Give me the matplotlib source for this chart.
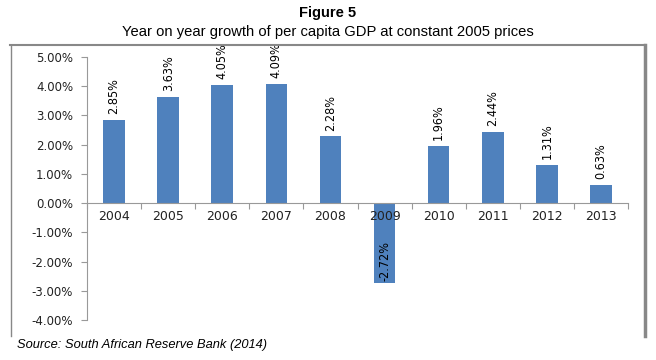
import matplotlib.pyplot as plt
from matplotlib.lines import Line2D
import numpy as np

# datos del gráfico
years = ['2004', '2005', '2006', '2007', '2008', '2009', '2010', '2011', '2012', '2013']
growth = [2.85, 3.63, 4.05, 4.09, 2.28, -2.72, 1.96, 2.44, 1.31, 0.63]
yticks = [5, 4, 3, 2, 1, 0, -1, -2, -3, -4]

fig = plt.figure(figsize=(6.56, 3.6), dpi=100)
ax = fig.add_axes([87 / 656, 1 - 320 / 360, (628 - 87) / 656, (320 - 57) / 360])

x = np.arange(len(years))
bars = ax.bar(x, growth, width=0.4, color='#4F81BD', zorder=2)

ax.set_xlim(-0.5, len(years) - 0.5)
ax.set_ylim(-4, 5)
ax.set_yticks(yticks)
ax.set_yticklabels(['%.2f%%' % v for v in yticks], fontsize=8.5, color='#222222')

# eje x en el cero, etiquetas debajo
ax.spines['bottom'].set_position(('data', 0))
ax.spines['bottom'].set_color('#999999')
ax.spines['left'].set_color('#999999')
ax.spines['top'].set_visible(False)
ax.spines['right'].set_visible(False)
ax.set_xticks(np.arange(len(years) + 1) - 0.5, minor=False)
ax.set_xticklabels([])
ax.tick_params(axis='x', length=4, color='#999999', direction='out')
ax.tick_params(axis='y', length=4, color='#999999', direction='out', pad=6)
for i, yr in enumerate(years):
    ax.text(i, -0.25, yr, ha='center', va='top', fontsize=9, color='#222222')

# etiquetas de valores
for i, v in enumerate(growth):
    if v >= 0:
        ax.text(i, v + 0.2, '%.2f%%' % v, rotation=90, ha='center', va='bottom',
                fontsize=9, fontstretch='condensed', family='DejaVu Sans')
    else:
        ax.text(i, v + 0.05, '%.2f%%' % v, rotation=90, ha='center', va='bottom',
                fontsize=9, fontstretch='condensed', family='DejaVu Sans')

# títulos
fig.text(0.5, 1 - 13 / 360, 'Figure 5', ha='center', va='center', fontsize=10.5,
         fontweight='bold', family='Liberation Sans')
fig.text(0.5, 1 - 32 / 360, 'Year on year growth of per capita GDP at constant 2005 prices',
         ha='center', va='center', fontsize=10.6, family='Liberation Sans')
fig.text(17 / 656, 1 - 345 / 360, 'Source: South African Reserve Bank (2014)',
         ha='left', va='center', fontsize=9.3, style='italic', family='Liberation Sans')

# marco gris
fig.add_artist(Line2D([10 / 656, 645 / 656], [1 - 45 / 360] * 2, color='#888888', lw=1.5))
fig.add_artist(Line2D([11 / 656] * 2, [1 - 45 / 360, 1 - 336 / 360], color='#888888', lw=1))
fig.add_artist(Line2D([645 / 656] * 2, [1 - 45 / 360, 1 - 336 / 360], color='#888888', lw=2.5))

fig.savefig('out.png', dpi=100)
